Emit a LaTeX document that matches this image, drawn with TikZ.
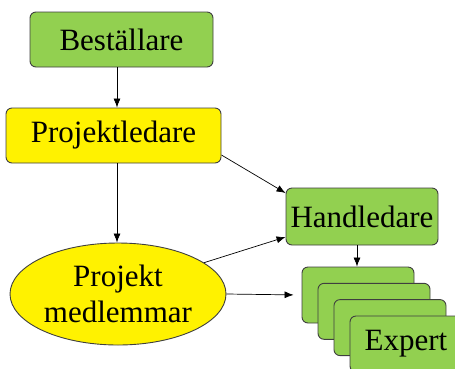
\documentclass[tikz,border=0pt]{standalone}
\usepackage{fontspec}
\setmainfont{Liberation Serif}
\usetikzlibrary{shapes.geometric, arrows.meta}
\definecolor{boxgreen}{HTML}{92D050}
\definecolor{boxline}{HTML}{3F3F3F}
\tikzset{
  box/.style={draw=boxline, line width=0.9pt, rounded corners=6pt, inner sep=0pt, font=\fontsize{31}{34}\selectfont},
  gbox/.style={box, fill=boxgreen},
  ybox/.style={box, fill=yellow},
}
\begin{document}
\begin{tikzpicture}[>={Latex[length=9pt,width=7pt]}, x=1pt, y=-1pt, line width=0.7pt]
  \useasboundingbox (0,0) rectangle (455,368);
  \node[gbox, minimum width=183pt, minimum height=55pt] (best) at (121.5,39.5) {Beställare};
  \node[ybox, minimum width=215pt, minimum height=55pt] (pl) at (113.5,135.5) {Projektledare};
  \node[gbox, minimum width=152pt, minimum height=57pt] (hand) at (362,216.5) {Handledare};
  \node[draw=boxline, line width=0.9pt, fill=yellow, ellipse, minimum width=216pt, minimum height=102pt, inner sep=0pt,
        align=center, font=\fontsize{31}{36}\selectfont] (pm) at (118,294) {Projekt\\medlemmar};
  \foreach \i in {0,1,2}
    \node[gbox, minimum width=112pt, minimum height=56pt] (e\i) at (358+16*\i,295+16.3*\i) {};
  \node[gbox, minimum width=112pt, minimum height=56pt] (e3) at (406,344) {Expert};

  \draw[->] (best.south -| 117,0) -- (pl.north -| 117,0);
  \draw[->] (pl.south -| 117,0) -- (pm.north -| 117,0);
  \draw[->] ([yshift=-19.5pt]pl.east) -- ([yshift=23.5pt]hand.west);
  \draw[->] (pm.20) -- ([yshift=-20.5pt]hand.west);
  \draw[->, shorten >=8pt] (pm.east) -- (e0.west);
  \draw[->] (hand.south -| 357,0) -- (e0.north -| 357,0);
\end{tikzpicture}
\end{document}
